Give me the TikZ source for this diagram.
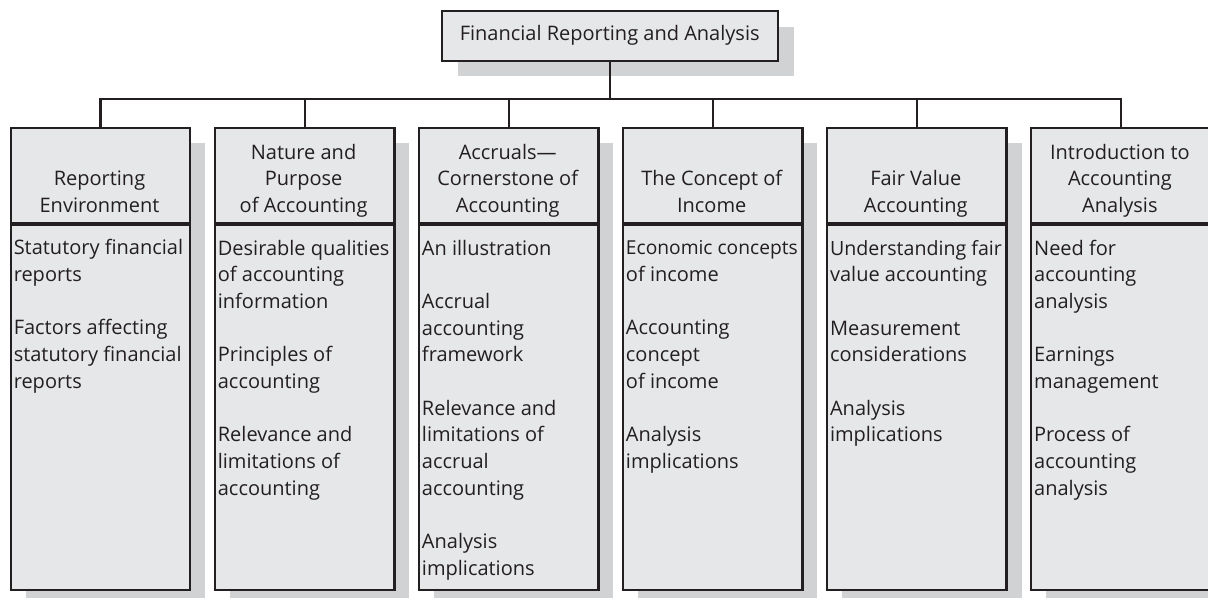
\documentclass[tikz,border=0pt]{standalone}
\usepackage{fontspec}
\setmainfont{Open Sans}
\usepackage{tikz}

\definecolor{boxgray}{RGB}{230,231,233}
\definecolor{shadowgray}{RGB}{209,210,212}
\definecolor{inkblack}{RGB}{35,31,32}

\tikzset{
  colbox/.style={draw=inkblack, fill=boxgray, line width=1.7pt, minimum width=134.6pt, inner sep=0pt},
  titlebox/.style={draw=inkblack, fill=boxgray, line width=1.7pt, minimum width=252pt, minimum height=37.3pt, inner sep=0pt, font=\fontsize{15}{20}\selectfont, text=inkblack},
  headtext/.style={align=center, inner sep=0.75pt, font=\fontsize{15}{20}\selectfont, text=inkblack},
  itemtext/.style={align=left, inner sep=0.75pt, font=\fontsize{15}{20}\selectfont, text=inkblack},
  shade/.style={fill=shadowgray, draw=none},
  link/.style={draw=inkblack, line width=1.7pt}
}

\begin{document}
\begin{tikzpicture}[x=0.75pt,y=0.75pt,yscale=-1,xscale=1]
\useasboundingbox (0,0) rectangle (1208,597);
\clip (0,0) rectangle (1208,597);

%Shape: Rectangle (shadows)
\path [shade] (457.7,26.7) rectangle (793.5,76.3);
\path [shade] (25.7,143.3) rectangle (205.2,610);
\path [shade] (229.8,143.3) rectangle (409.3,610);
\path [shade] (433.9,143.3) rectangle (613.4,610);
\path [shade] (637.9,143.3) rectangle (817.4,610);
\path [shade] (842,143.3) rectangle (1021.5,610);
\path [shade] (1046.1,143.3) rectangle (1225.6,610);

%Shape: Rectangle
\node [titlebox] (title) at (609.7,35.8) {Financial Reporting and Analysis};

%Shape: Rectangle
\node [colbox, anchor=north west, minimum height=71.25pt] (head1) at (9.7,126.7) {};
\node [colbox, anchor=north west, minimum height=273.75pt] (body1) at (head1.south west) {};
%Shape: Rectangle
\node [colbox, anchor=north west, minimum height=71.25pt] (head2) at (213.8,126.7) {};
\node [colbox, anchor=north west, minimum height=273.75pt] (body2) at (head2.south west) {};
%Shape: Rectangle
\node [colbox, anchor=north west, minimum height=71.25pt] (head3) at (417.9,126.7) {};
\node [colbox, anchor=north west, minimum height=273.75pt] (body3) at (head3.south west) {};
%Shape: Rectangle
\node [colbox, anchor=north west, minimum height=71.25pt] (head4) at (621.9,126.7) {};
\node [colbox, anchor=north west, minimum height=273.75pt] (body4) at (head4.south west) {};
%Shape: Rectangle
\node [colbox, anchor=north west, minimum height=71.25pt] (head5) at (826,126.7) {};
\node [colbox, anchor=north west, minimum height=273.75pt] (body5) at (head5.south west) {};
%Shape: Rectangle
\node [colbox, anchor=north west, minimum height=71.25pt] (head6) at (1030.1,126.7) {};
\node [colbox, anchor=north west, minimum height=273.75pt] (body6) at (head6.south west) {};

%Straight Lines
\coordinate (bus) at (609.7,99.3);
\draw [link] (title.south) -- (bus);
\draw [link] (head1.north) |- (bus) -| (head6.north);
\draw [link] (head2.north) -- (head2.north |- bus);
\draw [link] (head3.north) -- (head3.north |- bus);
\draw [link] (head4.north) -- (head4.north |- bus);
\draw [link] (head5.north) -- (head5.north |- bus);

% Text Node (base = last line)
\node [headtext, anchor=base] (headtxt1) at (99.5,212.5) {Reporting\\Environment};
% Text Node
\node [headtext, anchor=base] (headtxt2) at (303.6,212.5) {Nature and\\Purpose\\of Accounting};
% Text Node
\node [headtext, anchor=base] (headtxt3) at (507.7,212.5) {Accruals---\\Cornerstone of\\Accounting};
% Text Node
\node [headtext, anchor=base] (headtxt4) at (711.7,212.5) {The Concept of\\Income};
% Text Node
\node [headtext, anchor=base] (headtxt5) at (915.8,212.5) {Fair Value\\Accounting};
% Text Node
\node [headtext, anchor=base] (headtxt6) at (1119.9,212.5) {Introduction to\\Accounting\\Analysis};

% Text Node
\node [itemtext, anchor=base west] (items1) at (12.5,388.3) {Statutory financial\\reports\\[20pt]Factors affecting\\statutory financial\\reports};
% Text Node
\node [itemtext, anchor=base west] (items2) at (216.6,495) {Desirable qualities\\of accounting\\information\\[20pt]Principles of\\accounting\\[20pt]Relevance and\\limitations of\\accounting};
% Text Node
\node [itemtext, anchor=base west] (items3) at (420.7,575) {An illustration\\[20pt]Accrual\\accounting\\framework\\[20pt]Relevance and\\limitations of\\accrual\\accounting\\[20pt]Analysis\\implications};
% Text Node
\node [itemtext, anchor=base west] (items4) at (624.7,468.3) {{\fontsize{14.4}{20}\selectfont Economic concepts}\\of income\\[20pt]Accounting\\concept\\of income\\[20pt]Analysis\\implications};
% Text Node
\node [itemtext, anchor=base west] (items5) at (828.8,441.7) {{\fontsize{14.7}{20}\selectfont Understanding fair}\\value accounting\\[20pt]Measurement\\considerations\\[20pt]Analysis\\implications};
% Text Node
\node [itemtext, anchor=base west] (items6) at (1032.9,495) {Need for\\accounting\\analysis\\[20pt]Earnings\\management\\[20pt]Process of\\accounting\\analysis};

\end{tikzpicture}
\end{document}
